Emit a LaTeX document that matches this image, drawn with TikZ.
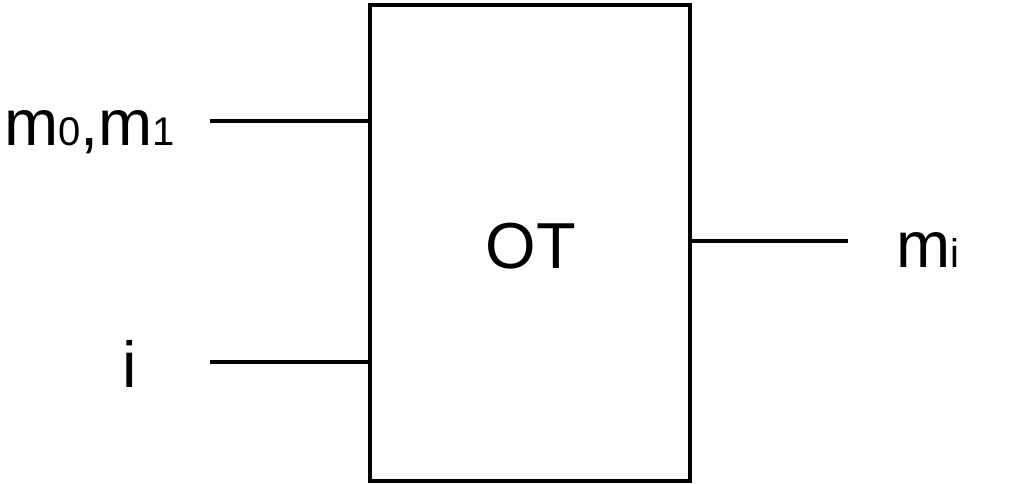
\documentclass[tikz,border=0pt]{standalone}
\usepackage{fontspec}
\setmainfont{Liberation Sans}
\newcommand{\smallsub}[1]{{\fontsize{40}{44}\selectfont #1}}
\begin{document}
\begin{tikzpicture}[x=1pt,y=-1pt,
  lbl/.style={inner sep=0pt,font=\fontsize{65}{72}\selectfont},
  wire/.style={line width=3.8pt},
  otbox/.style={draw,line width=4pt,minimum width=320pt,minimum height=476pt,inner sep=0pt}]
\useasboundingbox (0,0) rectangle (1012,484);
\node[otbox] (ot) at (530,243) {};
\node[lbl,anchor=base] (otl) at (531,268) {OT};
\node[lbl,anchor=base west] (m01) at (4,146) {m\smallsub{0},m\smallsub{1}};
\node[lbl,anchor=base] (i) at (130,387) {i};
\node[lbl,anchor=base west] (mi) at (896,267) {m\smallsub{i}};
\coordinate (a1) at (210,121);
\coordinate (a2) at (210,362);
\coordinate (a3) at (848,241);
\draw[wire] (a1) -- (ot.west |- a1);
\draw[wire] (a2) -- (ot.west |- a2);
\draw[wire] (ot.east |- a3) -- (a3);
\end{tikzpicture}
\end{document}
